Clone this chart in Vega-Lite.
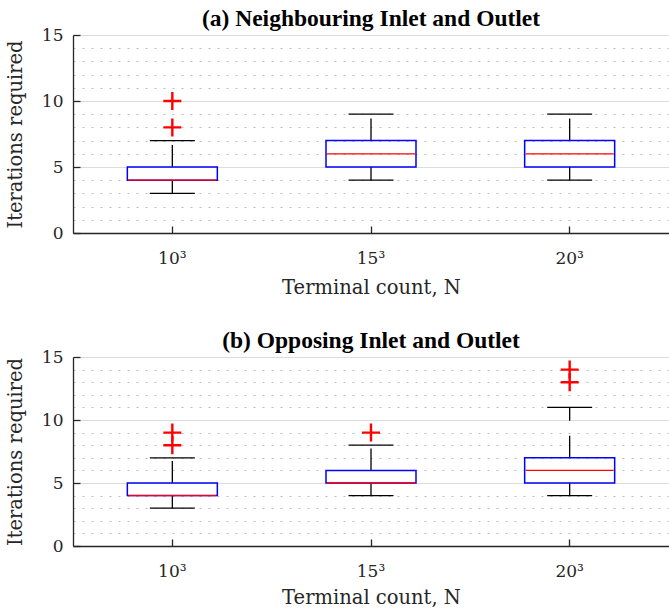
{
  "$schema": "https://vega.github.io/schema/vega-lite/v6.json",
  "autosize": {"type": "pad"},
  "padding": {"left": 5, "top": 6, "right": 0, "bottom": 0},
  "background": "white",
  "spacing": 31,
  "datasets": {
    "boxes": [
      {"panel": "a", "N": "10³", "low": 3, "q1": 4, "median": 4, "q3": 5, "high": 7},
      {"panel": "a", "N": "15³", "low": 4, "q1": 5, "median": 6, "q3": 7, "high": 9},
      {"panel": "a", "N": "20³", "low": 4, "q1": 5, "median": 6, "q3": 7, "high": 9},
      {"panel": "b", "N": "10³", "low": 3, "q1": 4, "median": 4, "q3": 5, "high": 7},
      {"panel": "b", "N": "15³", "low": 4, "q1": 5, "median": 5, "q3": 6, "high": 8},
      {"panel": "b", "N": "20³", "low": 4, "q1": 5, "median": 6, "q3": 7, "high": 11}
    ],
    "outliers": [
      {"panel": "a", "N": "10³", "value": 8},
      {"panel": "a", "N": "10³", "value": 10},
      {"panel": "b", "N": "10³", "value": 8},
      {"panel": "b", "N": "10³", "value": 9},
      {"panel": "b", "N": "15³", "value": 9},
      {"panel": "b", "N": "20³", "value": 13},
      {"panel": "b", "N": "20³", "value": 14}
    ]
  },
  "config": {
    "view": {"stroke": null},
    "axis": {
      "domainColor": "#262626",
      "domainWidth": 1.3,
      "tickColor": "#262626",
      "tickWidth": 1.3,
      "tickSize": -7,
      "labelFont": "DejaVu Serif",
      "labelFontSize": 17,
      "labelColor": "#262626",
      "titleFont": "DejaVu Serif",
      "titleFontSize": 19.5,
      "titleFontWeight": "normal",
      "titleColor": "#262626"
    },
    "title": {
      "font": "Liberation Serif",
      "fontSize": 23.5,
      "fontWeight": "bold",
      "color": "#000000",
      "anchor": "middle",
      "frame": "group",
      "offset": -4
    }
  },
  "vconcat": [
    {
      "title": "(a) Neighbouring Inlet and Outlet",
      "width": 596,
      "height": 198,
      "layer": [
        {
          "data": {"name": "boxes"},
          "transform": [{"filter": "datum.panel === 'a'"}],
          "mark": {"type": "rule", "color": "#000000", "strokeWidth": 1.3},
          "encoding": {
            "x": {
              "field": "N", "type": "nominal", "sort": null,
              "scale": {"type": "band", "paddingInner": 0, "paddingOuter": 0},
              "axis": {"title": "Terminal count, N", "labelAngle": 0, "grid": false, "labelPadding": 24, "titlePadding": 12}
            },
            "y": {
              "field": "q1", "type": "quantitative",
              "scale": {"domain": [0, 15], "nice": false},
              "axis": {
                "title": "Iterations required",
                "values": [0, 1, 2, 3, 4, 5, 6, 7, 8, 9, 10, 11, 12, 13, 14, 15],
                "tickCount": 30,
                "format": "d",
                "labelExpr": "datum.value % 5 === 0 ? datum.label : ''",
                "labelOverlap": false,
                "labelPadding": 17,
                "titlePadding": 16,
                "tickOpacity": {"condition": {"test": "datum.value % 5 === 0", "value": 1}, "value": 0},
                "grid": true,
                "gridWidth": 1,
                "gridColor": {"condition": {"test": "datum.value % 5 === 0", "value": "#dcdcdc"}, "value": "#bcbcbc"},
                "gridDash": {"condition": {"test": "datum.value % 5 === 0", "value": []}, "value": [2, 7]}
              }
            },
            "y2": {"field": "low"}
          }
        },
        {
          "data": {"name": "boxes"},
          "transform": [{"filter": "datum.panel === 'a'"}],
          "mark": {"type": "rule", "color": "#000000", "strokeWidth": 1.3, "strokeDash": [22, 15]},
          "encoding": {
            "x": {"field": "N", "type": "nominal", "sort": null},
            "y": {"field": "q3", "type": "quantitative"},
            "y2": {"field": "high"}
          }
        },
        {
          "data": {"name": "boxes"},
          "transform": [{"filter": "datum.panel === 'a'"}],
          "mark": {"type": "tick", "color": "#000000", "size": 45, "thickness": 1.3, "opacity": 1},
          "encoding": {
            "x": {"field": "N", "type": "nominal", "sort": null},
            "y": {"field": "low", "type": "quantitative"}
          }
        },
        {
          "data": {"name": "boxes"},
          "transform": [{"filter": "datum.panel === 'a'"}],
          "mark": {"type": "tick", "color": "#000000", "size": 45, "thickness": 1.3, "opacity": 1},
          "encoding": {
            "x": {"field": "N", "type": "nominal", "sort": null},
            "y": {"field": "high", "type": "quantitative"}
          }
        },
        {
          "data": {"name": "boxes"},
          "transform": [{"filter": "datum.panel === 'a'"}],
          "mark": {"type": "bar", "width": {"band": 0.453}, "fill": "#ffffff", "fillOpacity": 0, "stroke": "#0000ff", "strokeWidth": 1.5},
          "encoding": {
            "x": {"field": "N", "type": "nominal", "sort": null},
            "y": {"field": "q1", "type": "quantitative"},
            "y2": {"field": "q3"}
          }
        },
        {
          "data": {"name": "boxes"},
          "transform": [{"filter": "datum.panel === 'a'"}],
          "mark": {"type": "tick", "color": "#ff0000", "size": 88, "thickness": 1.3, "opacity": 1},
          "encoding": {
            "x": {"field": "N", "type": "nominal", "sort": null},
            "y": {"field": "median", "type": "quantitative"}
          }
        },
        {
          "data": {"name": "outliers"},
          "transform": [{"filter": "datum.panel === 'a'"}],
          "mark": {"type": "point", "shape": "M-1,0L1,0M0,-1L0,1", "size": 324, "filled": false, "color": "#ff0000", "strokeWidth": 2.4, "opacity": 1},
          "encoding": {
            "x": {"field": "N", "type": "nominal", "sort": null},
            "y": {"field": "value", "type": "quantitative"}
          }
        }
      ]
    },
    {
      "title": "(b) Opposing Inlet and Outlet",
      "width": 596,
      "height": 189,
      "layer": [
        {
          "data": {"name": "boxes"},
          "transform": [{"filter": "datum.panel === 'b'"}],
          "mark": {"type": "rule", "color": "#000000", "strokeWidth": 1.3},
          "encoding": {
            "x": {
              "field": "N", "type": "nominal", "sort": null,
              "scale": {"type": "band", "paddingInner": 0, "paddingOuter": 0},
              "axis": {"title": "Terminal count, N", "labelAngle": 0, "grid": false, "labelPadding": 24, "titlePadding": 9}
            },
            "y": {
              "field": "q1", "type": "quantitative",
              "scale": {"domain": [0, 15], "nice": false},
              "axis": {
                "title": "Iterations required",
                "values": [0, 1, 2, 3, 4, 5, 6, 7, 8, 9, 10, 11, 12, 13, 14, 15],
                "tickCount": 30,
                "format": "d",
                "labelExpr": "datum.value % 5 === 0 ? datum.label : ''",
                "labelOverlap": false,
                "labelPadding": 17,
                "titlePadding": 16,
                "tickOpacity": {"condition": {"test": "datum.value % 5 === 0", "value": 1}, "value": 0},
                "grid": true,
                "gridWidth": 1,
                "gridColor": {"condition": {"test": "datum.value % 5 === 0", "value": "#dcdcdc"}, "value": "#bcbcbc"},
                "gridDash": {"condition": {"test": "datum.value % 5 === 0", "value": []}, "value": [2, 7]}
              }
            },
            "y2": {"field": "low"}
          }
        },
        {
          "data": {"name": "boxes"},
          "transform": [{"filter": "datum.panel === 'b'"}],
          "mark": {"type": "rule", "color": "#000000", "strokeWidth": 1.3, "strokeDash": [22, 15]},
          "encoding": {
            "x": {"field": "N", "type": "nominal", "sort": null},
            "y": {"field": "q3", "type": "quantitative"},
            "y2": {"field": "high"}
          }
        },
        {
          "data": {"name": "boxes"},
          "transform": [{"filter": "datum.panel === 'b'"}],
          "mark": {"type": "tick", "color": "#000000", "size": 45, "thickness": 1.3, "opacity": 1},
          "encoding": {
            "x": {"field": "N", "type": "nominal", "sort": null},
            "y": {"field": "low", "type": "quantitative"}
          }
        },
        {
          "data": {"name": "boxes"},
          "transform": [{"filter": "datum.panel === 'b'"}],
          "mark": {"type": "tick", "color": "#000000", "size": 45, "thickness": 1.3, "opacity": 1},
          "encoding": {
            "x": {"field": "N", "type": "nominal", "sort": null},
            "y": {"field": "high", "type": "quantitative"}
          }
        },
        {
          "data": {"name": "boxes"},
          "transform": [{"filter": "datum.panel === 'b'"}],
          "mark": {"type": "bar", "width": {"band": 0.453}, "fill": "#ffffff", "fillOpacity": 0, "stroke": "#0000ff", "strokeWidth": 1.5},
          "encoding": {
            "x": {"field": "N", "type": "nominal", "sort": null},
            "y": {"field": "q1", "type": "quantitative"},
            "y2": {"field": "q3"}
          }
        },
        {
          "data": {"name": "boxes"},
          "transform": [{"filter": "datum.panel === 'b'"}],
          "mark": {"type": "tick", "color": "#ff0000", "size": 88, "thickness": 1.3, "opacity": 1},
          "encoding": {
            "x": {"field": "N", "type": "nominal", "sort": null},
            "y": {"field": "median", "type": "quantitative"}
          }
        },
        {
          "data": {"name": "outliers"},
          "transform": [{"filter": "datum.panel === 'b'"}],
          "mark": {"type": "point", "shape": "M-1,0L1,0M0,-1L0,1", "size": 324, "filled": false, "color": "#ff0000", "strokeWidth": 2.4, "opacity": 1},
          "encoding": {
            "x": {"field": "N", "type": "nominal", "sort": null},
            "y": {"field": "value", "type": "quantitative"}
          }
        }
      ]
    }
  ]
}
